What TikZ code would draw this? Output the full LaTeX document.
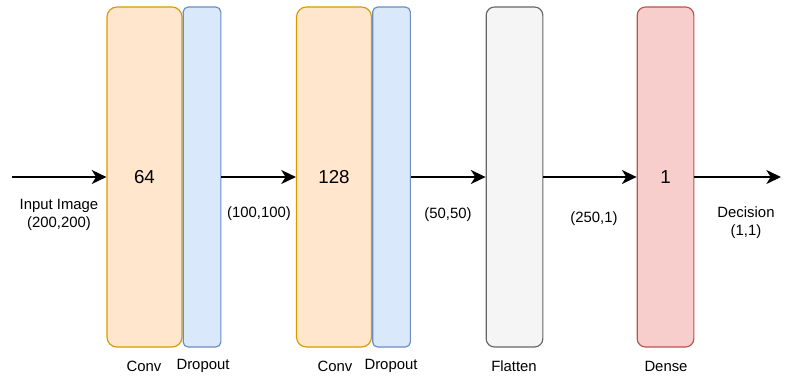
\documentclass[tikz,border=0pt]{standalone}
\usepackage{fontspec}
\setmainfont{Liberation Sans}
\usetikzlibrary{arrows.meta,positioning}

\definecolor{convfill}{HTML}{FFE6CC}
\definecolor{convline}{HTML}{D79B00}
\definecolor{dropfill}{HTML}{DAE8FC}
\definecolor{dropline}{HTML}{6C8EBF}
\definecolor{flatfill}{HTML}{F5F5F5}
\definecolor{flatline}{HTML}{666666}
\definecolor{densefill}{HTML}{F8CECC}
\definecolor{denseline}{HTML}{B85450}

\tikzset{
  layer/.style={draw, line width=1pt, inner sep=0pt, minimum height=10.2cm,
                font=\fontsize{16}{19}\selectfont},
  convbox/.style={layer, fill=convfill, draw=convline, rounded corners=0.3cm, minimum width=2.25cm},
  dropbox/.style={layer, fill=dropfill, draw=dropline, rounded corners=0.15cm, minimum width=1.13cm},
  flatbox/.style={layer, fill=flatfill, draw=flatline, rounded corners=0.25cm, minimum width=1.7cm},
  densebox/.style={layer, fill=densefill, draw=denseline, rounded corners=0.25cm, minimum width=1.7cm},
  flow/.style={line width=1.4pt, -{Stealth[length=4.4mm, width=4.2mm, inset=1.3mm]}},
  lbl/.style={font=\fontsize{12.7}{15.5}\selectfont, align=center, inner sep=0pt}
}

\begin{document}
\begin{tikzpicture}[x=0.03cm, y=-0.03cm]
  \useasboundingbox (0,0) rectangle (790,378);

  % layers
  \node[convbox] (conva) at (144.5,177) {64};
  \node[dropbox] (dropa) at (202,177) {};
  \node[convbox] (convb) at (334,177) {128};
  \node[dropbox] (dropb) at (391.5,177) {};
  \node[flatbox] (flat) at (514.5,177) {};
  \node[densebox] (dense) at (665.5,177) {1};

  \coordinate (in) at (12,177);
  \coordinate (out) at (781,177);

  % data flow
  \draw[flow] (in) -- (conva.west);
  \draw[flow] (dropa.east) -- (convb.west);
  \draw[flow] (dropb.east) -- (flat.west);
  \draw[flow] (flat.east) -- (dense.west);
  \draw[flow] (dense.east) -- (out);

  % shapes
  \node[lbl] (inlbl) at (59,215) {Input Image\\(200,200)};
  \node[lbl] (shapea) at (259,214) {(100,100)};
  \node[lbl] (shapeb) at (448,215) {(50,50)};
  \node[lbl] (shapec) at (594,219) {(250,1)};
  \node[lbl] (outlbl) at (746,223) {Decision\\(1,1)};

  % layer names
  \node[lbl] (nconva) at (144,366) {Conv};
  \node[lbl] (ndropa) at (203,366) {Dropout};
  \node[lbl] (nconvb) at (335,366) {Conv};
  \node[lbl] (ndropb) at (391,366) {Dropout};
  \node[lbl] (nflat) at (514,366) {Flatten};
  \node[lbl] (ndense) at (666,366) {Dense};
\end{tikzpicture}
\end{document}
